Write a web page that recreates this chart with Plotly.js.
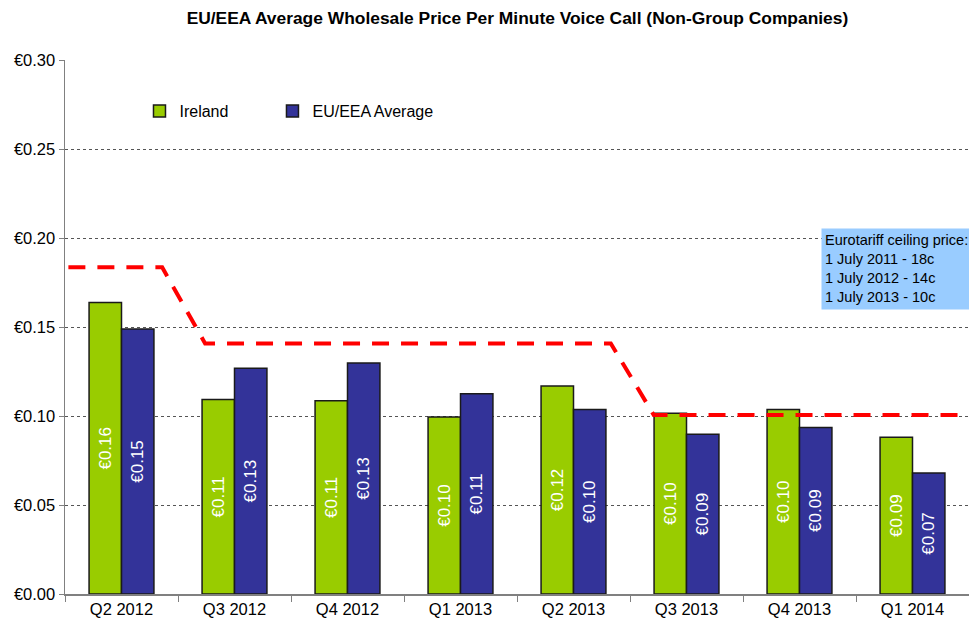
<!DOCTYPE html>
<html>
<head>
<meta charset="utf-8">
<script src="https://cdn.plot.ly/plotly-3.0.1.min.js"></script>
<style>html,body{margin:0;padding:0;background:#fff;}#chart{width:969px;height:624px;}</style>
</head>
<body>
<div id="chart"></div>
<script>
const quarters = ['Q2 2012','Q3 2012','Q4 2012','Q1 2013','Q2 2013','Q3 2013','Q4 2013','Q1 2014'];
const ireland = [0.1637, 0.1092, 0.1086, 0.0994, 0.1169, 0.1015, 0.1037, 0.0880];
const euAverage = [0.1489, 0.1268, 0.1298, 0.1125, 0.1037, 0.0897, 0.0936, 0.0680];
// Eurotariff ceiling line (position in category units, value)
const ceilingX = [-0.47, 0.36, 0.74, 4.33, 4.71, 7.5];
const ceilingY = [0.1835, 0.1835, 0.1408, 0.1408, 0.1006, 0.1006];
const yTicks = [0, 0.05, 0.10, 0.15, 0.20, 0.25, 0.30];
const yTickLabels = ['€0.00','€0.05','€0.10','€0.15','€0.20','€0.25','€0.30'];

const FONT = 'Liberation Sans, Arial, sans-serif';

const traces = [
  {
    type: 'bar', name: 'Ireland', x: quarters, y: ireland, legend: 'legend',
    marker: {color: '#99CC00', line: {color: '#1a1a1a', width: 1.5}},
    texttemplate: '€%{y:.2f}', textposition: 'inside', insidetextanchor: 'middle',
    textangle: -90, textfont: {color: '#ffffff', size: 17, family: FONT},
    hoverinfo: 'skip'
  },
  {
    type: 'bar', name: 'EU/EEA Average', x: quarters, y: euAverage, legend: 'legend2',
    marker: {color: '#333399', line: {color: '#1a1a1a', width: 1.5}},
    texttemplate: '€%{y:.2f}', textposition: 'inside', insidetextanchor: 'middle',
    textangle: -90, textfont: {color: '#ffffff', size: 17, family: FONT},
    hoverinfo: 'skip'
  },
  {
    type: 'scatter', mode: 'lines', x: ceilingX, y: ceilingY, xaxis: 'x2',
    line: {color: '#FF0000', width: 4, dash: '17px,12px'},
    showlegend: false, hoverinfo: 'skip'
  }
];

const legendBase = {
  orientation: 'h', xanchor: 'left', y: 0.9045, yanchor: 'middle',
  font: {size: 16, family: FONT, color: '#000'}, bgcolor: 'rgba(0,0,0,0)'
};

const layout = {
  width: 969, height: 624,
  margin: {l: 65, r: 0, t: 60, b: 30},
  paper_bgcolor: '#ffffff', plot_bgcolor: '#ffffff',
  font: {family: FONT, size: 16, color: '#000'},
  title: {text: '<b>EU/EEA Average Wholesale Price Per Minute Voice Call (Non-Group Companies)</b>',
          font: {size: 17.4, family: FONT, color: '#000'}, x: 0.534, xanchor: 'center', y: 0.971, yanchor: 'middle'},
  barmode: 'group', bargap: 0.426, bargroupgap: 0,
  xaxis: {
    type: 'category', range: [-0.5, 7.5], showgrid: false,
    showline: true, linecolor: '#808080', linewidth: 1.5,
    ticks: 'outside', tickson: 'boundaries', ticklen: 6, tickcolor: '#808080',
    tickfont: {size: 16.5, family: FONT, color: '#000'}, fixedrange: true
  },
  xaxis2: {overlaying: 'x', range: [-0.5, 7.5], visible: false, fixedrange: true},
  yaxis: {
    range: [0, 0.30], tickvals: yTicks, ticktext: yTickLabels,
    showgrid: true, gridcolor: '#555', griddash: 'dot', gridwidth: 1,
    showline: true, linecolor: '#808080', linewidth: 1.5,
    ticks: 'outside', ticklen: 5, tickcolor: '#808080',
    tickfont: {size: 16.5, family: FONT, color: '#000'}, zeroline: false, fixedrange: true
  },
  legend: Object.assign({}, legendBase, {x: 0.0824}),
  legend2: Object.assign({}, legendBase, {x: 0.2295}),
  annotations: [{
    xref: 'paper', yref: 'paper', x: (821 - 65) / 904, y: (594 - 228) / 534, xanchor: 'left', yanchor: 'top',
    text: 'Eurotariff ceiling price:<br>1 July 2011 - 18c<br>1 July 2012 - 14c<br>1 July 2013 - 10c',
    align: 'left', showarrow: false, bgcolor: '#99CCFF', borderpad: 3, width: 150, height: 74,
    valign: 'top', font: {size: 14.5, family: FONT, color: '#000'}
  }]
};

Plotly.newPlot('chart', traces, layout, {displayModeBar: false, staticPlot: true});
</script>
</body>
</html>
